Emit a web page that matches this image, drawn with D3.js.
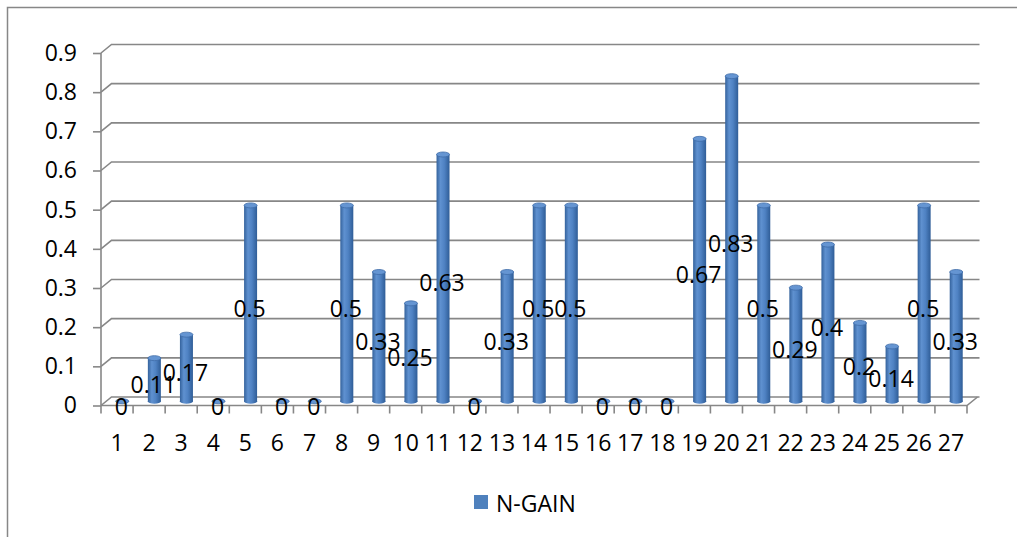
<!DOCTYPE html>
<html>
<head>
<meta charset="utf-8">
<script src="https://cdn.jsdelivr.net/npm/d3@7"></script>
<style>
  body { margin: 0; background: #fff; }
  text { font-family: "Open Sans", sans-serif; fill: #000; }
</style>
</head>
<body>
<div id="chart-area"></div>
<script>
const canvas_width = 1017;
const canvas_height = 537;

// data
const categories = d3.range(1, 28).map(String);
const nGain = [0, 0.11, 0.17, 0, 0.5, 0, 0, 0.5, 0.33, 0.25, 0.63, 0, 0.33, 0.5, 0.5,
    0, 0, 0, 0.67, 0.83, 0.5, 0.29, 0.4, 0.2, 0.14, 0.5, 0.33];
const yTicks = [0, 0.1, 0.2, 0.3, 0.4, 0.5, 0.6, 0.7, 0.8, 0.9];
const seriesName = 'N-GAIN';

const plot = { left: 101, right: 967, top: 53, bottom: 405.5 };
const depth = { dx: 10.5, dy: -8.5 };   // back wall offset
const barW = 13;
const ry = 2.5;
const gridColor = '#878787';
const fontSize = '23px';

let canvas = d3.select('#chart-area').append('svg')
    .attr('width', canvas_width)
    .attr('height', canvas_height);

// gradient for cylinder bodies
let defs = canvas.append('defs');
let grad = defs.append('linearGradient')
    .attr('id', 'cyl')
    .attr('x1', '0%').attr('x2', '100%').attr('y1', '0%').attr('y2', '0%');
grad.append('stop').attr('offset', '0%').attr('stop-color', '#34629c');
grad.append('stop').attr('offset', '30%').attr('stop-color', '#5f91d0');
grad.append('stop').attr('offset', '60%').attr('stop-color', '#4f82c3');
grad.append('stop').attr('offset', '100%').attr('stop-color', '#2f5d97');

// outer chart border (right and bottom edges are outside the picture)
canvas.append('rect')
    .attr('x', 7.5).attr('y', 7.5)
    .attr('width', canvas_width + 20).attr('height', canvas_height + 20)
    .attr('fill', 'none')
    .attr('stroke', gridColor)
    .attr('stroke-width', 1.5);

let x = d3.scaleBand()
    .domain(categories)
    .range([plot.left, plot.right]);

let y = d3.scaleLinear()
    .domain([0, 0.9])
    .range([plot.bottom, plot.top]);

let group = canvas.append('g');

// gridlines on the back wall, with the slanted bit at the side wall
group.selectAll('.grid').data(yTicks).enter().append('path')
    .attr('class', 'grid')
    .attr('d', (d) => `M${plot.left},${y(d)} L${plot.left + depth.dx},${y(d) + depth.dy} L${plot.right + depth.dx + 2},${y(d) + depth.dy}`)
    .attr('fill', 'none')
    .attr('stroke', gridColor)
    .attr('stroke-width', 1.6);

// y axis
let leftAxis = d3.axisLeft(y)
    .tickValues(yTicks)
    .tickSize(8)
    .tickPadding(16)
    .tickFormat((d) => String(d));

let yAxis = group.append('g')
    .attr('class', 'left axis')
    .attr('transform', `translate(${plot.left}, 0)`)
    .call(leftAxis);
yAxis.select('.domain').remove();
yAxis.selectAll('line').attr('stroke', gridColor).attr('stroke-width', 1.6);
yAxis.selectAll('text').attr('font-size', fontSize).attr('font-family', '"Open Sans", sans-serif');

group.append('line')
    .attr('x1', plot.left).attr('x2', plot.left)
    .attr('y1', y(0.9)).attr('y2', y(0))
    .attr('stroke', gridColor).attr('stroke-width', 1.6);

// floor front edge and right slant
group.append('path')
    .attr('d', `M${plot.left},${y(0)} L${plot.right},${y(0)} L${plot.right + depth.dx},${y(0) + depth.dy}`)
    .attr('fill', 'none')
    .attr('stroke', gridColor)
    .attr('stroke-width', 1.6);

// category ticks at band boundaries
let bounds = categories.map((d) => x(d)).concat([plot.right]);
group.selectAll('.xtick').data(bounds).enter().append('line')
    .attr('class', 'xtick')
    .attr('x1', (d) => d).attr('x2', (d) => d)
    .attr('y1', y(0)).attr('y2', y(0) + 8)
    .attr('stroke', gridColor).attr('stroke-width', 1.6);

group.selectAll('.xlabel').data(categories).enter().append('text')
    .attr('class', 'xlabel')
    .attr('x', (d) => x(d) + x.bandwidth() / 2)
    .attr('y', 442)
    .attr('text-anchor', 'middle')
    .attr('dominant-baseline', 'central')
    .attr('font-size', fontSize)
    .text((d) => d);

// cylinders, sitting half way into the depth
const cx = (i) => x(categories[i]) + x.bandwidth() / 2 + depth.dx / 2;
const cy = (v) => y(v) + depth.dy / 2;

let bars = group.selectAll('.bar').data(nGain).enter().append('g').attr('class', 'bar');

bars.each(function(d, i) {
    let g = d3.select(this);
    let xc = cx(i);
    if (d > 0) {
        g.append('rect')
            .attr('x', xc - barW / 2)
            .attr('y', cy(d))
            .attr('width', barW)
            .attr('height', cy(0) - cy(d))
            .attr('fill', 'url(#cyl)');
        g.append('ellipse')
            .attr('cx', xc).attr('cy', cy(0))
            .attr('rx', barW / 2).attr('ry', ry)
            .attr('fill', 'url(#cyl)');
    }
    g.append('ellipse')
        .attr('cx', xc).attr('cy', cy(d))
        .attr('rx', barW / 2).attr('ry', ry)
        .attr('fill', '#6595d2')
        .attr('stroke', '#3f6ca8')
        .attr('stroke-width', 0.8);
});

// data labels, centred on the front plane at half the value
group.selectAll('.label').data(nGain).enter().append('text')
    .attr('class', 'label')
    .attr('x', (d, i) => cx(i) - 1)
    .attr('y', (d) => y(d / 2))
    .attr('text-anchor', 'middle')
    .attr('dominant-baseline', 'central')
    .attr('font-size', fontSize)
    .text((d) => String(d));

// legend
let legend = canvas.append('g').attr('transform', 'translate(474, 495)');
legend.append('rect')
    .attr('width', 14).attr('height', 14)
    .attr('fill', '#4f81bd');
legend.append('text')
    .attr('x', 22).attr('y', 7.5)
    .attr('dominant-baseline', 'central')
    .attr('font-size', fontSize)
    .text(seriesName);
</script>
</body>
</html>
